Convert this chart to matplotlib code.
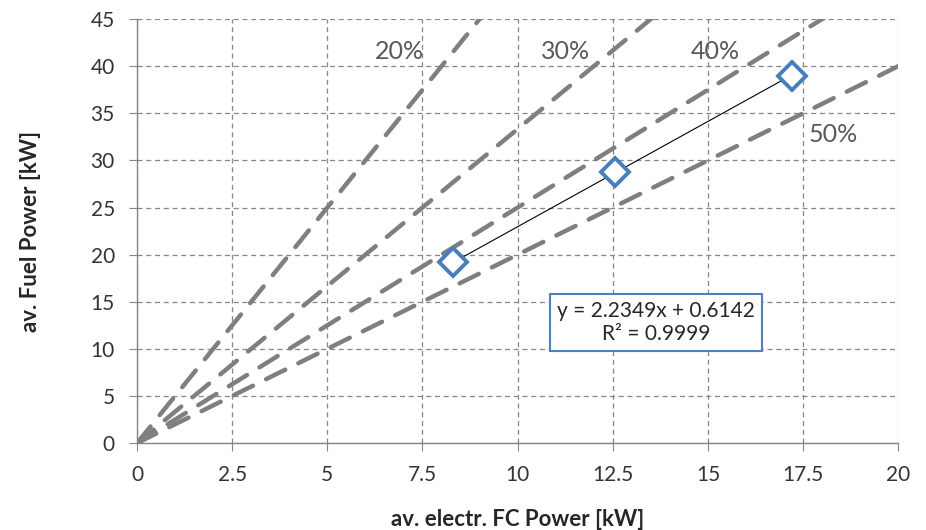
import numpy as np
import matplotlib.pyplot as plt

plt.rcParams['font.family'] = ['Lato', 'DejaVu Sans']

# measured points
fc_power = [8.30, 12.57, 17.22]
fuel_power = [19.2, 28.8, 39.0]

# efficiency reference lines
efficiencies = [0.20, 0.30, 0.40, 0.50]
eff_labels = ['20%', '30%', '40%', '50%']
label_pos = [(6.9, 41.6), (11.25, 41.6), (15.2, 41.6), (18.3, 32.8)]

slope, intercept = 2.2349, 0.6142
r2 = 0.9999

fig = plt.figure(figsize=(9.26, 5.3), dpi=100)
ax = fig.add_axes([0.148, 0.164, 0.822, 0.800])

gray_grid = '#868686'
ax.grid(True, linestyle=(0, (4, 3)), color=gray_grid, linewidth=0.9)
ax.set_axisbelow(True)

xx = np.array([0, 25])
for eff in efficiencies:
    ax.plot(xx, xx / eff, color='#7f7f7f', linewidth=3.2,
            linestyle=(0, (4.8, 3.3)), dash_capstyle='round', zorder=2)

for txt, (px, py) in zip(eff_labels, label_pos):
    ax.text(px, py, txt, fontsize=18, color='#595959', ha='center', va='center')

# trendline
xt = np.array([fc_power[0], fc_power[-1]])
ax.plot(xt, slope * xt + intercept, color='black', linewidth=0.8, zorder=3)

ax.plot(fc_power, fuel_power, linestyle='none', marker='D', markersize=14,
        markerfacecolor='white', markeredgecolor='#4a7ebb', markeredgewidth=2.8,
        zorder=4)

ax.text(13.64, 12.8, 'y = 2.2349x + 0.6142\nR² = %.4f' % r2, fontsize=15,
        color='#262626', ha='center', va='center', linespacing=1.2,
        bbox=dict(boxstyle='square,pad=0.35', facecolor='white',
                  edgecolor='#4f81bd', linewidth=1.5), zorder=5)

ax.set_xlim(0, 20)
ax.set_ylim(0, 45)
ax.set_xticks(np.arange(0, 20.1, 2.5))
ax.set_xticklabels(['0', '2.5', '5', '7.5', '10', '12.5', '15', '17.5', '20'])
ax.set_yticks(np.arange(0, 46, 5))

for s in ['top', 'right']:
    ax.spines[s].set_visible(False)
for s in ['left', 'bottom']:
    ax.spines[s].set_color(gray_grid)
    ax.spines[s].set_linewidth(1.0)
ax.tick_params(axis='both', direction='out', length=6, color=gray_grid,
               labelsize=15, labelcolor='#333333', pad=10)

ax.set_xlabel('av. electr. FC Power [kW]', fontsize=16, fontweight='bold',
              color='#262626', labelpad=17)
ax.set_ylabel('av. Fuel Power [kW]', fontsize=16, fontweight='bold',
              color='#262626', labelpad=36)

fig.savefig('out.png', dpi=100)
